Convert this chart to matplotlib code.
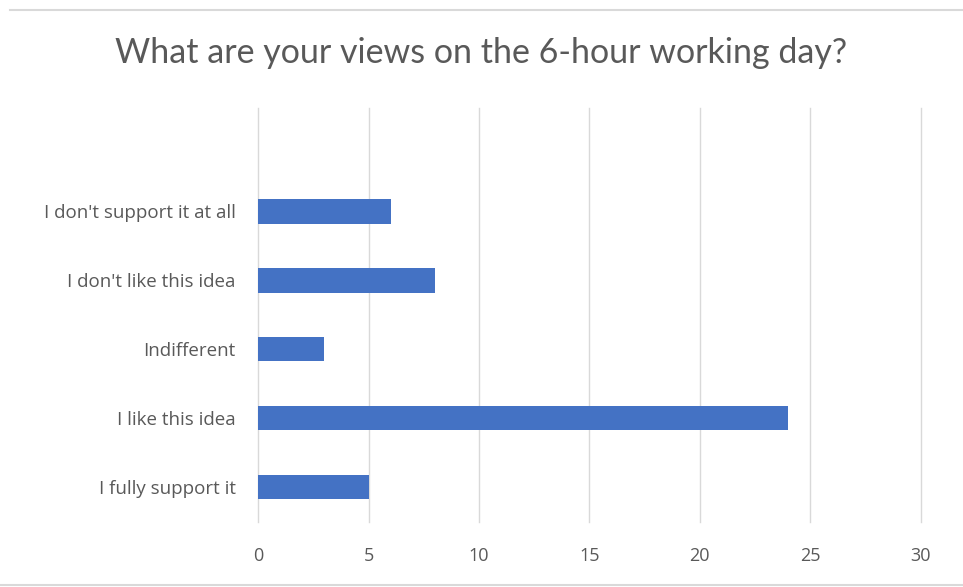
import matplotlib.pyplot as plt
from matplotlib.lines import Line2D

# Survey data
categories = ["I fully support it", "I like this idea", "Indifferent",
              "I don't like this idea", "I don't support it at all"]
counts = [5, 24, 3, 8, 6]
xticks = [0, 5, 10, 15, 20, 25, 30]

fig = plt.figure(figsize=(9.63, 5.87), dpi=100)
ax = fig.add_axes([0.268, 0.111, 0.688, 0.705])

ax.barh(range(len(categories)), counts, height=0.35, color="#4472c4", zorder=3)

ax.set_xlim(0, 30)
ax.set_ylim(-0.5, len(categories) + 0.5)
ax.set_xticks(xticks)
ax.set_yticks(range(len(categories)))
ax.set_yticklabels(categories)
ax.grid(axis="x", color="#d9d9d9", linewidth=1, zorder=0)
for gl in ax.get_xgridlines():
    gl.set_clip_on(False)
for s in ax.spines.values():
    s.set_visible(False)
ax.tick_params(length=0, colors="#595959")
ax.tick_params(axis="x", pad=18, labelsize=13)
ax.tick_params(axis="y", pad=16, labelsize=13.5)
for lab in ax.get_xticklabels() + ax.get_yticklabels():
    lab.set_fontfamily("Open Sans")

fig.text(0.5, 0.91, "What are your views on the 6-hour working day?",
         ha="center", va="center", fontsize=24.5, color="#595959", family="Lato")

# thin frame lines at top and bottom
fig.add_artist(Line2D([0.01, 1], [0.983, 0.983], color="#d9d9d9", lw=1.5))
fig.add_artist(Line2D([0, 1], [0.003, 0.003], color="#d9d9d9", lw=1.5))

fig.savefig("out.png")
